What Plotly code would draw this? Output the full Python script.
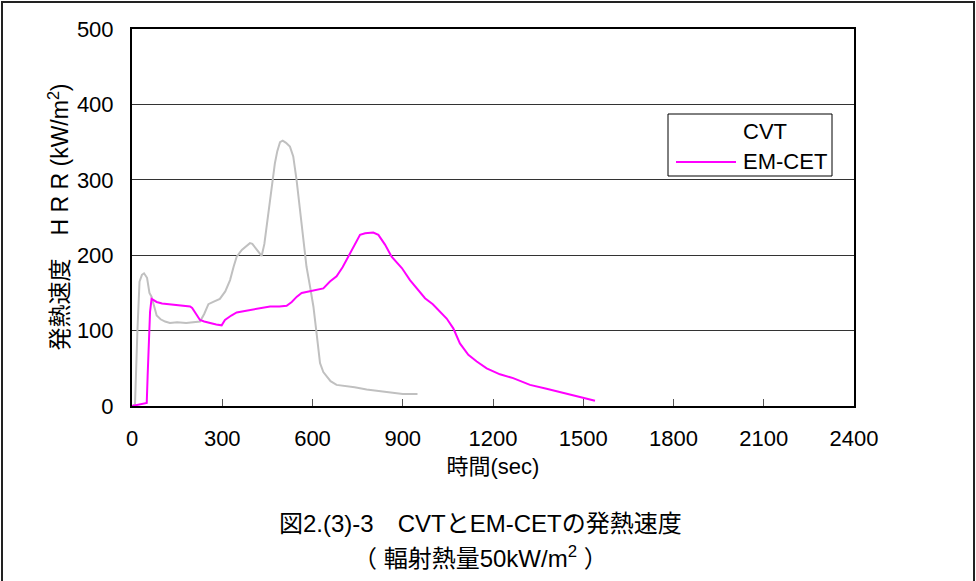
import plotly.graph_objects as go

# ---- data ----
cvt_time = [0, 10, 18, 25, 33, 40, 50, 58, 65, 75, 82, 95, 110, 126, 150, 180, 210, 226,
            240, 254, 270, 292, 310, 326, 338, 348, 365, 380, 392, 400, 414, 431, 440,
            450, 459, 467, 475, 483, 492, 501, 512, 525, 536, 547, 556, 564, 572, 580,
            592, 603, 614, 625, 636, 647, 660, 680, 700, 740, 780, 820, 860, 900, 949]
cvt_hrr = [0, 2, 100, 165, 174, 176, 170, 150, 145, 130, 120, 115, 112, 110, 111, 110, 111, 112,
           122, 135, 138, 142, 152, 167, 185, 198, 207, 212, 216, 215, 208, 199, 215,
           245, 278, 300, 322, 338, 350, 352, 349, 344, 331, 300, 270, 240, 210, 185,
           158, 132, 95, 57, 45, 39, 33, 28, 27, 25, 22, 20, 18, 16, 16]

em_time = [0, 10, 20, 30, 40, 49, 52, 56, 60, 65, 75, 82, 100, 126, 160, 193, 200, 209, 218,
           226, 240, 259, 280, 298, 309, 330, 348, 375, 403, 430, 459, 490, 514, 531, 548,
           564, 600, 636, 658, 680, 700, 714, 730, 745, 758, 775, 790, 802, 819, 841, 863,
           880, 897, 924, 950, 974, 1000, 1018, 1046, 1068, 1090, 1118, 1146, 1179, 1223,
           1267, 1323, 1378, 1434, 1489, 1539]
em_hrr = [0, 1, 2, 3, 3, 4, 40, 90, 125, 142, 140, 138, 136, 135, 134, 132, 130, 125, 119,
          114, 112, 110, 108, 107, 114, 120, 124, 126, 128, 130, 132, 132, 133, 138, 145,
          150, 153, 156, 165, 172, 184, 194, 207, 218, 227, 229, 230, 230, 227, 214, 198,
          190, 183, 167, 155, 143, 135, 127, 116, 103, 83, 68, 59, 50, 42,
          37, 28, 23, 17, 12, 7]

x_ticks = [0, 300, 600, 900, 1200, 1500, 1800, 2100, 2400]
y_ticks = [0, 100, 200, 300, 400, 500]
series_names = ["CVT", "EM-CET"]
series_colors = ["#C0C0C0", "#FF00FF"]

FONT = "Liberation Sans, Arial, Noto Sans CJK JP, sans-serif"

fig = go.Figure()
fig.add_trace(go.Scatter(x=cvt_time, y=cvt_hrr, mode="lines", name=series_names[0],
                         line=dict(color=series_colors[0], width=2)))
fig.add_trace(go.Scatter(x=em_time, y=em_hrr, mode="lines", name=series_names[1],
                         line=dict(color=series_colors[1], width=2)))

# plot area in page pixels: x 132..854, y 29..406 (body margin removed below)
W, H = 976, 581
SX0, SX1, SY0, SY1 = 132, 854, 29, 406
pw, ph = SX1 - SX0, SY1 - SY0
L, T = SX0, SY0
R, B = W - L - pw, H - T - ph


def px(x):
    return (x - SX0) / pw


def py(y):
    return (SY1 - y) / ph


fig.update_layout(
    width=W, height=H,
    margin=dict(l=L, r=R, t=T, b=B, pad=0),
    paper_bgcolor="white", plot_bgcolor="white",
    font=dict(family=FONT, size=22, color="black"),
    showlegend=False,
    xaxis=dict(range=[0, 2400], tickvals=x_ticks, ticktext=[str(v) for v in x_ticks],
               showgrid=False, zeroline=False, showline=True, linecolor="black",
               linewidth=2, mirror=True, ticks="inside", ticklen=7, tickcolor="#555",
               tickwidth=1, ticklabelstandoff=12,
               title=dict(text="時間(sec)", standoff=8, font=dict(size=22))),
    yaxis=dict(range=[0, 500], tickvals=y_ticks, ticktext=[str(v) for v in y_ticks],
               showgrid=True, gridcolor="#333", gridwidth=1, zeroline=False,
               showline=True, linecolor="black", linewidth=2, mirror=True,
               ticks="", ticklabelstandoff=12),
    annotations=[
        dict(text="発熱速度　H R R (kW/m<sup>2</sup>)", textangle=-90,
             xref="paper", yref="paper", x=px(58), y=0.5, showarrow=False,
             xanchor="center", yanchor="middle", font=dict(size=23)),
        dict(text="図2.(3)-3　CVTとEM-CETの発熱速度",
             xref="paper", yref="paper", x=px(480), y=py(523), showarrow=False,
             xanchor="center", yanchor="middle", font=dict(size=24)),
        dict(text="（ 輻射熱量50kW/m<sup>2</sup> ）",
             xref="paper", yref="paper", x=px(480), y=py(557), showarrow=False,
             xanchor="center", yanchor="middle", font=dict(size=24)),
        # legend texts
        dict(text=series_names[0], xref="paper", yref="paper", x=px(741), y=py(131),
             showarrow=False, xanchor="left", yanchor="middle", font=dict(size=22)),
        dict(text=series_names[1], xref="paper", yref="paper", x=px(741), y=py(162),
             showarrow=False, xanchor="left", yanchor="middle", font=dict(size=22)),
    ],
    shapes=[
        # outer frame
        dict(type="rect", xref="paper", yref="paper",
             x0=px(2), x1=px(974), y0=py(584), y1=py(2),
             line=dict(color="#222", width=2), fillcolor="rgba(0,0,0,0)", layer="above"),
        # legend box
        dict(type="rect", xref="paper", yref="paper",
             x0=px(668), x1=px(832), y0=py(176), y1=py(114),
             line=dict(color="black", width=1), fillcolor="white", layer="above"),
        # legend line sample for EM-CET (CVT sample is not visible in the reference)
        dict(type="line", xref="paper", yref="paper",
             x0=px(676), x1=px(736), y0=py(162), y1=py(162),
             line=dict(color=series_colors[1], width=2), layer="above"),
    ],
)

fig.write_html("out.html",
               config={"displayModeBar": False},
               post_script="document.body.style.margin='0px';"
                           "document.body.style.overflow='hidden';")
